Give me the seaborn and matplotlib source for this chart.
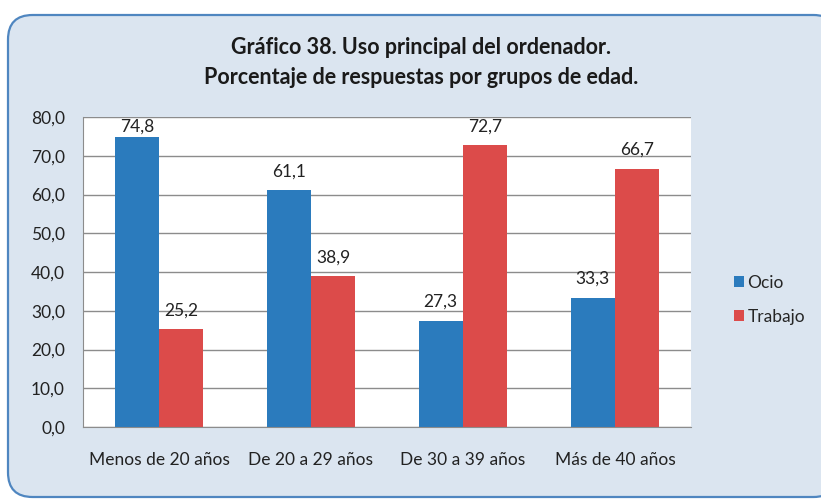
import numpy as np
import pandas as pd
import matplotlib
matplotlib.use('Agg')
import matplotlib.pyplot as plt
import seaborn as sns
from matplotlib.patches import FancyBboxPatch

grupos = ['Menos de 20 años', 'De 20 a 29 años', 'De 30 a 39 años', 'Más de 40 años']
ocio = [74.8, 61.1, 27.3, 33.3]
trabajo = [25.2, 38.9, 72.7, 66.7]
series = ['Ocio', 'Trabajo']
colores = ['#2b7bbd', '#dc4b4a']
yticks = [0, 10, 20, 30, 40, 50, 60, 70, 80]

df = pd.DataFrame({
    'grupo': grupos * 2,
    'uso': [series[0]] * len(grupos) + [series[1]] * len(grupos),
    'pct': ocio + trabajo,
})

sns.set_style('white')
plt.rcParams['font.family'] = ['Lato', 'DejaVu Sans']

fig = plt.figure(figsize=(8.21, 5.01), dpi=100)
fig.patch.set_facecolor('white')

# rounded background panel like the office chart frame
W, H = 821, 501
panel = FancyBboxPatch((8 / W, 4 / H), 830 / W, 482 / H,
                       boxstyle='round,pad=0,rounding_size=0.03',
                       transform=fig.transFigure, facecolor='#dbe5f0',
                       edgecolor='#4f86c0', linewidth=1.6, zorder=-5,
                       mutation_aspect=W / H)
fig.patches.append(panel)

ax = fig.add_axes([83 / W, 1 - 427 / H, 608 / W, 310 / H])
ax.set_zorder(2)
sns.barplot(data=df, x='grupo', y='pct', hue='uso', palette=colores,
            width=0.585, gap=0, saturation=1, linewidth=0, ax=ax, legend=True)

ax.set_facecolor('white')
ax.set_ylim(0, 80)
ax.set_yticks(yticks)
ax.set_yticklabels([f'{v:.1f}'.replace('.', ',') for v in yticks], fontsize=12.5, color='#222222')
ax.tick_params(axis='x', labelsize=12.5, colors='#222222', pad=18, length=0)
ax.tick_params(axis='y', length=0, pad=13)
ax.set_xlabel('')
ax.set_ylabel('')
ax.yaxis.grid(True, color='#8c8c8c', linewidth=1)
ax.set_axisbelow(True)
for s in ['top', 'right']:
    ax.spines[s].set_visible(False)
ax.spines['left'].set_color('#8c8c8c')
ax.spines['bottom'].set_color('#8c8c8c')

# value labels; the tallest one sits closer so it stays inside the plot area
for cont in ax.containers:
    for bar, v in zip(cont, cont.datavalues):
        pad = 2 if v > 74 else 8
        ax.annotate(f'{v:.1f}'.replace('.', ','),
                    (bar.get_x() + bar.get_width() / 2, bar.get_height()),
                    xytext=(0, pad), textcoords='offset points',
                    ha='center', va='bottom', fontsize=12.5, color='#222222')

leg = ax.legend(loc='center left', bbox_to_anchor=(1.05, 0.41), frameon=False,
                fontsize=12.5, handlelength=0.6, handleheight=0.6,
                handletextpad=0.2, labelspacing=1.05, borderpad=0.2)

fig.text(0.513, 1 - 47 / H, 'Gráfico 38. Uso principal del ordenador.',
         ha='center', va='center', fontsize=15.5, fontweight='bold', color='#1a1a1a')
fig.text(0.513, 1 - 77 / H, 'Porcentaje de respuestas por grupos de edad.',
         ha='center', va='center', fontsize=15.5, fontweight='bold', color='#1a1a1a')

fig.savefig('out.png', dpi=100)
